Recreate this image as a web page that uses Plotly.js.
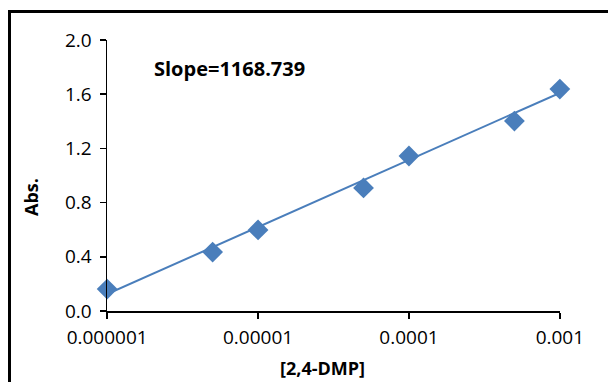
<!DOCTYPE html>
<html>
<head>
<meta charset="utf-8">
<script src="https://cdn.plot.ly/plotly-3.0.1.min.js"></script>
<style>
html,body{margin:0;padding:0;background:#fff;}
#wrap{position:relative;width:608px;height:382px;overflow:hidden;}
#chart{width:608px;height:382px;}
#frame{position:absolute;left:8px;top:10px;width:700px;height:500px;border-left:3px solid #000;border-top:3px solid #000;pointer-events:none;}
</style>
</head>
<body>
<div id="wrap"><div id="chart"></div><div id="frame"></div></div>
<script>
// Data
const concentration = [0.000001, 0.000005, 0.00001, 0.00005, 0.0001, 0.0005, 0.001];
const absorbance = [0.162, 0.435, 0.598, 0.908, 1.144, 1.402, 1.638];
// Trendline end points
const trendX = [0.000001, 0.001];
const trendY = [0.125, 1.61];
const xTickVals = [0.000001, 0.00001, 0.0001, 0.001];
const xTickText = ['0.000001', '0.00001', '0.0001', '0.001'];
const yTickVals = [0, 0.4, 0.8, 1.2, 1.6, 2.0];
const slopeLabel = 'Slope=1168.739';
const yTitle = 'Abs.';
const xTitle = '[2,4-DMP]';

const blue = '#4A7EBB';
const fontFam = '"Open Sans", "Liberation Sans", sans-serif';

const traces = [
  {x: trendX, y: trendY, type: 'scatter', mode: 'lines',
   line: {color: blue, width: 2}, hoverinfo: 'skip', cliponaxis: false},
  {x: concentration, y: absorbance, type: 'scatter', mode: 'markers',
   marker: {symbol: 'diamond', size: 16, color: blue, line: {width: 0}}, cliponaxis: false}
];

const layout = {
  width: 608, height: 382,
  margin: {l: 107, r: 48, t: 40, b: 71},
  paper_bgcolor: '#fff', plot_bgcolor: '#fff',
  showlegend: false,
  font: {family: fontFam, size: 19, color: '#000'},
  xaxis: {
    type: 'log', range: [-6.001, -2.999],
    tickvals: xTickVals, ticktext: xTickText,
    showline: true, linecolor: '#000', linewidth: 1.5,
    ticks: 'outside', ticklen: 6, tickwidth: 1.5, tickcolor: '#000',
    ticklabelstandoff: 3,
    showgrid: false, zeroline: false,
    tickfont: {size: 19}
  },
  yaxis: {
    range: [0, 2.0],
    tickvals: yTickVals, tickformat: '.1f',
    showline: true, linecolor: '#000', linewidth: 1.5,
    ticks: 'outside', ticklen: 6, tickwidth: 1.5, tickcolor: '#000',
    ticklabelstandoff: 4,
    showgrid: false, zeroline: false,
    tickfont: {size: 19}
  },
  annotations: [{
    xref: 'paper', yref: 'paper', x: (152 - 107) / 453, y: (311 - 68) / 271,
    xanchor: 'left', yanchor: 'middle', showarrow: false,
    text: '<b>' + slopeLabel + '</b>', font: {size: 20}
  }, {
    xref: 'paper', yref: 'paper', x: (31 - 107) / 453, y: (311 - 197) / 271,
    xanchor: 'center', yanchor: 'middle', showarrow: false, textangle: -90,
    text: '<b>' + yTitle + '</b>', font: {size: 18}
  }, {
    xref: 'paper', yref: 'paper', x: (322 - 107) / 453, y: (311 - 368) / 271,
    xanchor: 'center', yanchor: 'middle', showarrow: false,
    text: '<b>' + xTitle + '</b>', font: {size: 18}
  }]
};

Plotly.newPlot('chart', traces, layout, {displayModeBar: false, staticPlot: true});
</script>
</body>
</html>
